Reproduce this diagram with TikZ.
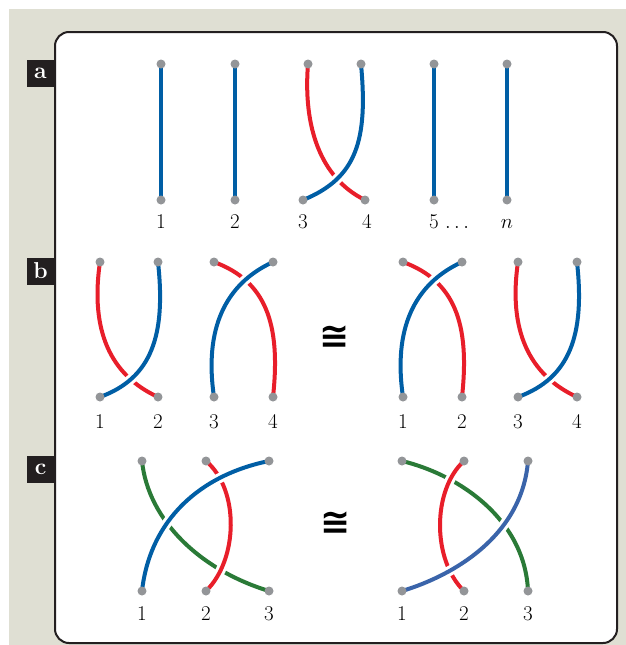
\documentclass[tikz,border=0pt]{standalone}
\usepackage{fontspec}
\newfontfamily\symfont{DejaVu Sans}
\definecolor{bg}{RGB}{223,223,211}
\definecolor{blueS}{RGB}{0,94,165}
\definecolor{blueL}{RGB}{58,100,170}
\definecolor{redS}{RGB}{232,30,42}
\definecolor{greenS}{RGB}{42,122,55}
\definecolor{dotgray}{RGB}{147,149,152}
\definecolor{boxblack}{RGB}{35,31,32}
\begin{document}
\begin{tikzpicture}[x=1pt,y=-1pt,
  strand/.style={line width=4pt},
  overstrand/.style={preaction={draw=white,line width=10pt}},
  dot/.style={circle,fill=dotgray,inner sep=0pt,minimum size=9pt},
  num/.style={anchor=base,font=\fontsize{21}{24}\selectfont,inner sep=0pt},
  tag/.style={fill=boxblack,text=white,minimum size=27pt,inner sep=0pt,font=\fontsize{23}{25}\selectfont\bfseries},
  congsym/.style={font=\fontsize{36}{38}\selectfont\symfont\bfseries,inner sep=0pt}]
\useasboundingbox (0,0) rectangle (626,645);
\fill[bg] (9,9) rectangle (626,645);
\draw[fill=white,draw=boxblack,line width=2pt,rounded corners=14pt] (55,32) rectangle (617,643);
\node[tag] (ta) at (40.5,73.5) {a};
\node[tag] (tb) at (40.5,271) {b};
\node[tag] (tc) at (40.5,469.5) {c};

% ---------- panel a ----------
\coordinate (a1t) at (161,64);  \coordinate (a1b) at (161,200);
\coordinate (a2t) at (235,64);  \coordinate (a2b) at (235,200);
\coordinate (a3t) at (308,64);  \coordinate (a3b) at (303,200);
\coordinate (a4t) at (361,64);  \coordinate (a4b) at (365,200);
\coordinate (a5t) at (434,64);  \coordinate (a5b) at (434,200);
\coordinate (ant) at (507,64);  \coordinate (anb) at (507,200);
\draw[strand,blueS] (a1t) -- (a1b);
\draw[strand,blueS] (a2t) -- (a2b);
\draw[strand,blueS] (a5t) -- (a5b);
\draw[strand,blueS] (ant) -- (anb);
\draw[strand,redS] (a3t) .. controls +(-5,62) and +(-45,-22) .. (a4b);
\draw[strand,blueS,overstrand] (a4t) .. controls +(7,76) and +(54,-22) .. (a3b);
\node[num] (la1) at (161,228) {1};
\node[num] (la2) at (235,228) {2};
\node[num] (la3) at (303,228) {3};
\node[num] (la4) at (367,228) {4};
\node[num,anchor=base west] (la5) at (429,228) {5\ $\ldots$};
\node[num] (lan) at (507,228) {$n$};

% ---------- panel b ----------
\foreach \nm/\xx in {bl1/100,bl2/158,bl3/214,bl4/273,br1/403,br2/462,br3/518,br4/577}{
  \coordinate (\nm t) at (\xx,262); \coordinate (\nm b) at (\xx,397);}
% left pair 1-2 : crossing low
\draw[strand,redS] (bl1t) .. controls +(-10,68) and +(-48,-22) .. (bl2b);
\draw[strand,blueS,overstrand] (bl2t) .. controls +(8,73) and +(52,-19) .. (bl1b);
% left pair 3-4 : crossing high
\draw[strand,redS] (bl4b) .. controls +(8,-73) and +(52,19) .. (bl3t);
\draw[strand,blueS,overstrand] (bl3b) .. controls +(-10,-68) and +(-48,22) .. (bl4t);
% right pair 1-2 : crossing high
\draw[strand,redS] (br2b) .. controls +(8,-73) and +(52,19) .. (br1t);
\draw[strand,blueS,overstrand] (br1b) .. controls +(-10,-68) and +(-48,22) .. (br2t);
% right pair 3-4 : crossing low
\draw[strand,redS] (br3t) .. controls +(-10,68) and +(-48,-22) .. (br4b);
\draw[strand,blueS,overstrand] (br4t) .. controls +(8,73) and +(52,-19) .. (br3b);
\foreach \nm/\xx/\tx in {lb1/100/1,lb2/158/2,lb3/214/3,lb4/273/4,lb5/403/1,lb6/462/2,lb7/518/3,lb8/577/4}{
  \node[num] (\nm) at (\xx,428) {\tx};}
\node[congsym] (eqb) at (335,337) {≅};

% ---------- panel c ----------
\foreach \nm/\xx in {cl1/142,cl2/206,cl3/269,cr1/402,cr2/464,cr3/528}{
  \coordinate (\nm t) at (\xx,461); \coordinate (\nm b) at (\xx,591);}
\draw[strand,greenS] (cl1t) .. controls +(6,59) and +(-69,-21) .. (cl3b);
\draw[strand,redS,overstrand] (cl2t) .. controls +(34,29) and +(32,-31) .. (cl2b);
\draw[strand,blueS,overstrand] (cl1b) .. controls +(8,-71) and +(-69,14) .. (cl3t);
\draw[strand,greenS] (cr1t) .. controls +(58,14) and +(-3,-71) .. (cr3b);
\draw[strand,redS,overstrand] (cr2t) .. controls +(-32,29) and +(-32,-31) .. (cr2b);
\draw[strand,blueL,overstrand] (cr1b) .. controls +(53,-16) and +(-6,74) .. (cr3t);
\foreach \nm/\xx/\tx in {lc1/142/1,lc2/206/2,lc3/269/3,lc4/402/1,lc5/464/2,lc6/528/3}{
  \node[num] (\nm) at (\xx,620) {\tx};}
\node[congsym] (eqc) at (336,523) {≅};

% ---------- dots ----------
\foreach \cc in {a1t,a1b,a2t,a2b,a3t,a3b,a4t,a4b,a5t,a5b,ant,anb,
  bl1t,bl1b,bl2t,bl2b,bl3t,bl3b,bl4t,bl4b,br1t,br1b,br2t,br2b,br3t,br3b,br4t,br4b,
  cl1t,cl1b,cl2t,cl2b,cl3t,cl3b,cr1t,cr1b,cr2t,cr2b,cr3t,cr3b}{
  \node[dot] (d\cc) at (\cc) {};}
\end{tikzpicture}
\end{document}
